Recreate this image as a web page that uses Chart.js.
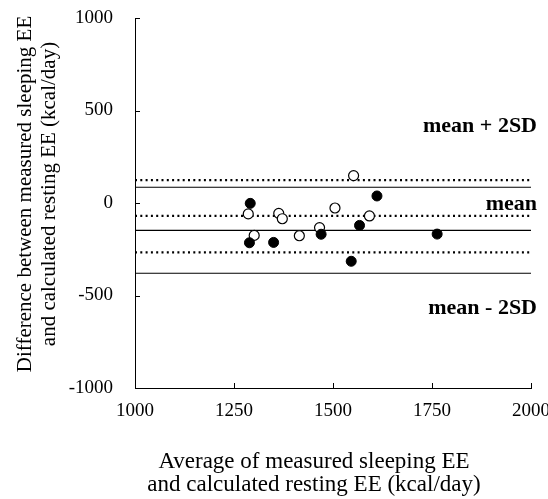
<!DOCTYPE html>
<html>
<head>
<meta charset="utf-8">
<script src="https://cdn.jsdelivr.net/npm/chart.js@4"></script>
<style>
  html,body{margin:0;padding:0;background:#fff;}
  #wrap{width:548px;height:499px;position:relative;}
</style>
</head>
<body>
<div id="wrap"><canvas id="c"></canvas></div>
<script>
// ===== Data =====
const filledX = [1291, 1289, 1350, 1470, 1546, 1567, 1611, 1763];
const filledY = [-2, -215, -213, -169, -315, -121, 38, -168];
const openX = [1286, 1301, 1363, 1372, 1415, 1466, 1505, 1552, 1592];
const openY = [-59, -175, -56, -85, -177, -133, -27, 148, -70];
const dottedLimits = [124, -70, -267];   // mean + 2SD, mean, mean - 2SD
const solidLimits = [85, -148, -380];
const limitLabels = ['mean + 2SD', 'mean', 'mean - 2SD'];
const limitLabelY = [416, -5, -568];
const xTicks = [1000, 1250, 1500, 1750, 2000];
const yTicks = [-1000, -500, 0, 500, 1000];
const xTitle = ['Average of measured sleeping EE', 'and calculated resting EE (kcal/day)'];
const yTitle = ['Difference between measured sleeping EE', 'and calculated resting EE (kcal/day)'];

const SERIF = '"Liberation Serif", "Times New Roman", serif';
const pts = (xs, ys) => xs.map((x, i) => ({x, y: ys[i]}));
const hline = (y) => [{x: xTicks[0], y}, {x: xTicks[xTicks.length-1], y}];

const lineSets = [
  ...dottedLimits.map(v => ({type:'line', data:hline(v), borderColor:'#000', borderWidth:2.2,
    borderDash:[2,3.3], pointRadius:0, order:2})),
  ...solidLimits.map(v => ({type:'line', data:hline(v), borderColor:'#000', borderWidth:1.1,
    pointRadius:0, order:2}))
];

// ===== Plugins =====
const decor = {
  id:'decor',
  afterDraw(chart){
    const {ctx, scales:{x, y}, chartArea:a} = chart;
    ctx.save(); ctx.strokeStyle='#000'; ctx.lineWidth=1;
    // inward ticks
    ctx.beginPath();
    xTicks.forEach(v=>{ const px=Math.round(x.getPixelForValue(v))+0.5; ctx.moveTo(px,a.bottom); ctx.lineTo(px,a.bottom-5); });
    yTicks.forEach(v=>{ const py=Math.round(y.getPixelForValue(v))+0.5; ctx.moveTo(a.left,py); ctx.lineTo(a.left+5,py); });
    ctx.stroke();
    ctx.fillStyle='#000';
    // limit labels
    ctx.font='bold 22px '+SERIF;
    ctx.textAlign='right'; ctx.textBaseline='middle';
    limitLabels.forEach((t,i)=>ctx.fillText(t, a.right+6, y.getPixelForValue(limitLabelY[i])));
    // axis titles
    ctx.textAlign='center';
    ctx.font='23px '+SERIF;
    xTitle.forEach((t,i)=>ctx.fillText(t, 314, 462 + i*23));
    ctx.font='21px '+SERIF;
    ctx.translate(0, 194); ctx.rotate(-Math.PI/2);
    yTitle.forEach((t,i)=>ctx.fillText(t, 0, 25 + i*24));
    ctx.restore();
  }
};

// ===== Chart =====
new Chart(document.getElementById('c'), {
  type:'scatter',
  data:{
    datasets:[
      {data:pts(filledX, filledY), pointRadius:5, pointHoverRadius:5, backgroundColor:'#000', borderColor:'#000', borderWidth:1, order:0},
      {data:pts(openX, openY), pointRadius:5, pointHoverRadius:5, backgroundColor:'#fff', borderColor:'#000', borderWidth:1.2, order:1},
      ...lineSets
    ]
  },
  options:{
    responsive:true, maintainAspectRatio:false, animation:false,
    layout:{padding:{top:18, right:17, left:0, bottom:0}},
    plugins:{legend:{display:false}, tooltip:{enabled:false}},
    scales:{
      x:{
        type:'linear', min:1000, max:2000,
        afterBuildTicks:(s)=>{ s.ticks = xTicks.map(v=>({value:v})); },
        afterFit:(s)=>{ s.height=111; s.paddingLeft=0; s.paddingRight=0; },
        grid:{display:true, drawOnChartArea:false, drawTicks:false},
        border:{color:'#000', width:1},
        ticks:{color:'#000', padding:12, maxRotation:0, font:{family:SERIF, size:19}, callback:(v)=>String(v)}
      },
      y:{
        type:'linear', min:-1000, max:1000,
        afterBuildTicks:(s)=>{ s.ticks = yTicks.map(v=>({value:v})); },
        afterFit:(s)=>{ s.width=135; s.paddingTop=0; s.paddingBottom=0; },
        grid:{display:true, drawOnChartArea:false, drawTicks:false},
        border:{color:'#000', width:1},
        ticks:{color:'#000', padding:22, font:{family:SERIF, size:19}, callback:(v)=>String(v)}
      }
    }
  },
  plugins:[decor]
});
</script>
</body>
</html>
